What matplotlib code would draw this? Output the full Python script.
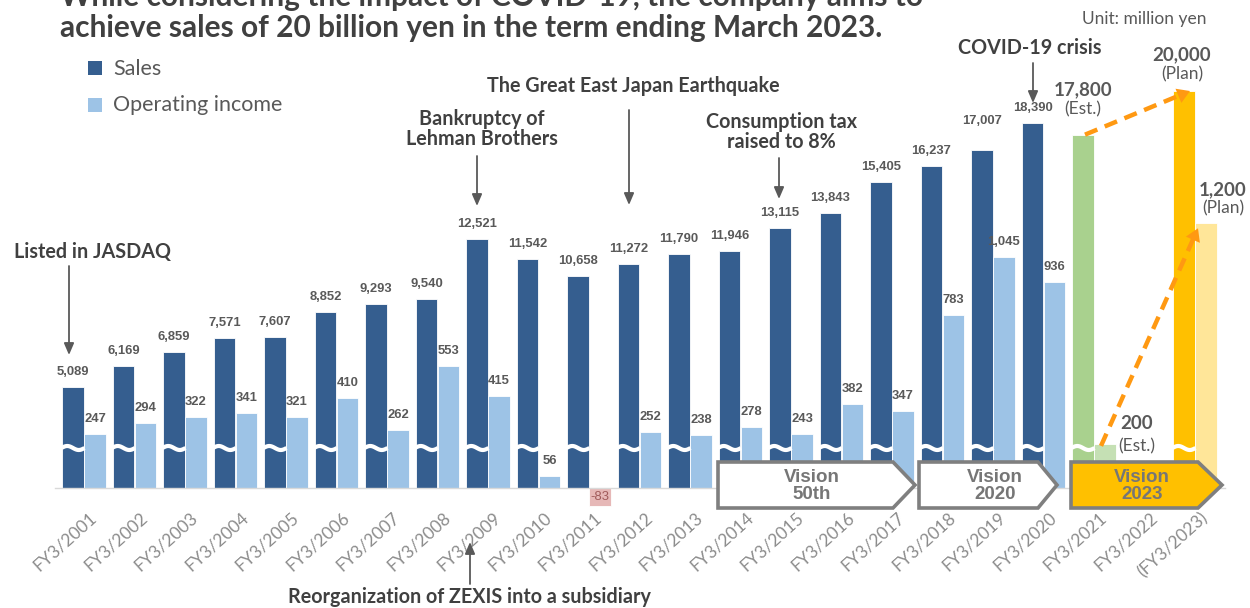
import matplotlib
matplotlib.use("Agg")
import matplotlib.pyplot as plt
import numpy as np
from matplotlib.patches import Polygon

# ---------------- data ----------------
categories = ["FY3/2001", "FY3/2002", "FY3/2003", "FY3/2004", "FY3/2005", "FY3/2006",
              "FY3/2007", "FY3/2008", "FY3/2009", "FY3/2010", "FY3/2011", "FY3/2012",
              "FY3/2013", "FY3/2014", "FY3/2015", "FY3/2016", "FY3/2017", "FY3/2018",
              "FY3/2019", "FY3/2020", "FY3/2021", "FY3/2022", "(FY3/2023)"]
sales = [5089, 6169, 6859, 7571, 7607, 8852, 9293, 9540, 12521, 11542, 10658, 11272,
         11790, 11946, 13115, 13843, 15405, 16237, 17007, 18390, 17800, np.nan, 20000]
op_income = [247, 294, 322, 341, 321, 410, 262, 553, 415, 56, -83, 252, 238, 278, 243,
             382, 347, 783, 1045, 936, 200, np.nan, 1200]
EST_IDX = 20
PLAN_IDX = 22

# ---------------- layout helpers (pixels) ----------------
W, H = 1250, 608
BASE = 488          # baseline, px from top
PITCH = 50.5        # px per category
X0 = 84             # px of first category centre
S_PX = 0.01985      # px per million yen (sales)
O_PX = 0.2206       # px per million yen (operating income)
OFF = 11 / PITCH    # bar offset in category units
BW = 21.5 / PITCH   # bar width in category units

def px_x(i, off=0.0):
    return X0 + PITCH * (i + off)

def px_ys(v):
    return BASE - v * S_PX

def px_yo(v):
    return BASE - v * O_PX

C_SALES = "#355E8F"
C_OP = "#9DC3E6"
C_TXT = "#595959"
C_DARK = "#404040"
C_ORANGE = "#FF9912"

fig = plt.figure(figsize=(W / 100, H / 100), dpi=100)
ax = fig.add_axes([0, 0, 1, 1])
ax.set_xlim(-X0 / PITCH, (W - X0) / PITCH)
ax.set_ylim(-(H - BASE) / S_PX, BASE / S_PX)
ax.axis("off")
ax2 = ax.twinx()
ax2.set_ylim(-(H - BASE) / O_PX, BASE / O_PX)
ax2.axis("off")
ov = fig.add_axes([0, 0, 1, 1])
ov.set_xlim(0, W)
ov.set_ylim(H, 0)
ov.axis("off")
ov.patch.set_alpha(0)

idx = np.arange(len(categories))

# baseline
ov.plot([55, 1225], [BASE, BASE], color="#D9D9D9", lw=1.0, zorder=1)

# sales bars
s_colors = [C_SALES] * len(categories)
s_colors[EST_IDX] = "#A9D18E"
s_colors[PLAN_IDX] = "#FFC000"
ax.bar(idx - OFF, sales, width=BW, color=s_colors, edgecolor="#FFFFFF", linewidth=0.6, zorder=2)

# operating income bars
o_colors = [C_OP] * len(categories)
o_colors[EST_IDX] = "#C5E0B4"
o_colors[PLAN_IDX] = "#FFE699"
for i, v in enumerate(op_income):
    if not np.isnan(v) and v < 0:
        o_colors[i] = "#E6B8B7"
ax2.bar(idx + OFF, op_income, width=BW, color=o_colors, edgecolor="#FFFFFF", linewidth=0.6, zorder=2)

# wavy breaks on the sales bars
t = np.linspace(0, 1, 40)
for i, v in enumerate(sales):
    if np.isnan(v):
        continue
    xl = px_x(i, -OFF) - 11.5
    xr = px_x(i, -OFF) + 11.5
    xs = xl + (xr - xl) * t
    ys = 448 - 2.0 * np.sin(2 * np.pi * t)
    ov.plot(xs, ys, color="white", lw=3.0, solid_capstyle="butt", zorder=3)

# value labels
NUM = "Liberation Sans"
for i, v in enumerate(sales):
    if np.isnan(v) or i in (EST_IDX, PLAN_IDX):
        continue
    extra = 14 if i == 18 else 0
    ov.text(px_x(i, -OFF), px_ys(v) - 15 - extra, f"{int(v):,}", ha="center", va="center",
            fontsize=9.4, fontweight="bold", color=C_TXT, family=NUM, zorder=5)
for i, v in enumerate(op_income):
    if np.isnan(v) or i in (EST_IDX, PLAN_IDX):
        continue
    if v < 0:
        ov.text(px_x(i, OFF), px_yo(v / 2), f"{int(v):,}", ha="center", va="center",
                fontsize=9.4, color="#A05A5A", family=NUM, zorder=5)
    else:
        ov.text(px_x(i, OFF), px_yo(v) - 15, f"{int(v):,}", ha="center", va="center",
                fontsize=9.4, fontweight="bold", color=C_TXT, family=NUM, zorder=5)

# estimate / plan labels
LAB = "Lato"
def two_line(x, y_top_px, val, note, dy_num, dy_note):
    ov.text(x, y_top_px - dy_num, f"{int(val):,}", ha="center", va="center", fontsize=13.5,
            fontweight="bold", color=C_TXT, family=LAB, zorder=5)
    ov.text(x, y_top_px - dy_note, note, ha="center", va="center", fontsize=12.5,
            color=C_TXT, family=LAB, zorder=5)

two_line(px_x(EST_IDX, -OFF), px_ys(sales[EST_IDX]), sales[EST_IDX], "(Est.)", 45, 25)
two_line(px_x(PLAN_IDX, -OFF) - 2, px_ys(sales[PLAN_IDX]), sales[PLAN_IDX], "(Plan)", 36, 17)
two_line(px_x(PLAN_IDX, OFF) + 17, px_yo(op_income[PLAN_IDX]), op_income[PLAN_IDX], "(Plan)", 34, 15)
two_line(px_x(EST_IDX, OFF) + 32, px_yo(op_income[EST_IDX]), op_income[EST_IDX], "(Est.)", 20, -2)

# orange dashed growth arrows
def dashed_arrow(p0, p1):
    p0 = np.array(p0, float)
    p1 = np.array(p1, float)
    d = p1 - p0
    d /= np.hypot(*d)
    pm = p1 - d * 12
    ov.plot([p0[0], pm[0]], [p0[1], pm[1]], color=C_ORANGE, lw=3.2, dashes=(3, 1.8),
            solid_capstyle="butt", zorder=6)
    ov.annotate("", xy=p1, xytext=pm - d * 2,
                arrowprops=dict(arrowstyle="-|>,head_length=0.9,head_width=0.55",
                                color=C_ORANGE, lw=0.01, shrinkA=0, shrinkB=0), zorder=6)

dashed_arrow((px_x(EST_IDX, -OFF) + 2, px_ys(sales[EST_IDX])),
             (px_x(PLAN_IDX, -OFF) + 6, px_ys(sales[PLAN_IDX])))
dashed_arrow((px_x(EST_IDX, OFF) - 4, px_yo(op_income[EST_IDX]) + 2),
             (px_x(PLAN_IDX, OFF) - 8, px_yo(op_income[PLAN_IDX]) + 5))

# vision pentagons
def pent(x0, x1, notch, y0, y1, face, text, tx):
    ym = (y0 + y1) / 2
    poly = Polygon([(x0, y0), (notch, y0), (x1, ym), (notch, y1), (x0, y1)], closed=True,
                   facecolor=face, edgecolor="#7F7F7F", lw=2.6, joinstyle="miter", zorder=7)
    ov.add_patch(poly)
    ov.text(tx, ym + 1, text, ha="center", va="center", fontsize=13.5,
            fontweight="bold", color="#767676", family=NUM, linespacing=1.0, zorder=8)

pent(718, 915, 893, 462, 508, "white", "Vision\n50th", 812)
pent(919, 1057, 1038, 462, 508, "white", "Vision\n2020", 995)
pent(1071, 1222, 1198, 462, 508, "#FFC000", "Vision\n2023", 1142)

# category labels
for i, c in enumerate(categories):
    ov.text(px_x(i) + 5, 509, c, rotation=42, rotation_mode="anchor", ha="right", va="top",
            fontsize=12.5, color="#8C8C8C", family=LAB, zorder=5)

# event annotations
def event(text, tx, ty, ax_x, y_from, y_to):
    ov.text(tx, ty, text, ha="center", va="center", fontsize=14.2, fontweight="bold",
            color=C_DARK, family=LAB, linespacing=1.0, zorder=5)
    ov.annotate("", xy=(ax_x, y_to), xytext=(ax_x, y_from),
                arrowprops=dict(arrowstyle="-|>,head_length=0.7,head_width=0.3",
                                color="#595959", lw=1.3, shrinkA=0, shrinkB=0), zorder=5)

event("Listed in JASDAQ", 92, 252, 69, 266, 355)
event("Bankruptcy of\nLehman Brothers", 482, 129, 477, 156, 206)
event("The Great East Japan Earthquake", 633, 86, 629, 110, 205)
event("Consumption tax\nraised to 8%", 781, 132, 779, 158, 199)
event("COVID-19 crisis", 1030, 48, 1033, 63, 103)
event("Reorganization of ZEXIS into a subsidiary", 469, 597, 470, 584, 542)

# title (top line cut off by the frame, as in the source)
ov.text(60, -3, "While considering the impact of COVID-19, the company aims to", ha="left",
        va="center", fontsize=21.5, fontweight="bold", color=C_DARK, family=LAB, zorder=5)
ov.text(60, 28, "achieve sales of 20 billion yen in the term ending March 2023.", ha="left",
        va="center", fontsize=21.5, fontweight="bold", color=C_DARK, family=LAB, zorder=5)

# legend
ov.add_patch(plt.Rectangle((88, 61), 14, 14, facecolor=C_SALES, edgecolor="none", zorder=5))
ov.add_patch(plt.Rectangle((88, 98), 14, 14, facecolor=C_OP, edgecolor="none", zorder=5))
ov.text(113, 69, "Sales", ha="left", va="center", fontsize=15.5, color=C_TXT, family=LAB)
ov.text(113, 105, "Operating income", ha="left", va="center", fontsize=15.5, color=C_TXT, family=LAB)

ov.text(1207, 19, "Unit: million yen", ha="right", va="center", fontsize=12.5, color=C_TXT, family=LAB)

fig.savefig("out.png", dpi=100)
